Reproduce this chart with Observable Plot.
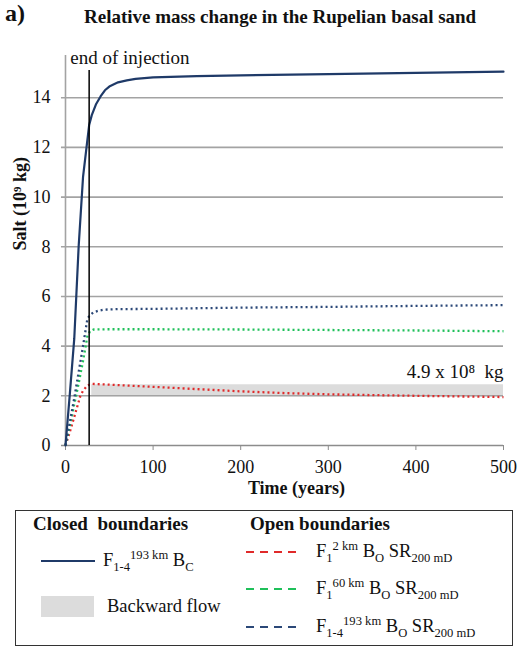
<!DOCTYPE html>
<html>
<head>
<meta charset="utf-8">
<script src="https://cdn.jsdelivr.net/npm/d3@7"></script>
<script src="https://cdn.jsdelivr.net/npm/@observablehq/plot@0.6"></script>
<style>
  html, body { margin: 0; padding: 0; background: #fff; }
  body { width: 518px; height: 650px; position: relative; overflow: hidden; font-family: "Liberation Serif", "Times New Roman", serif; color: #111; }
  .abs { position: absolute; white-space: nowrap; }
  #chart { position: absolute; left: 0; top: 0; }
  #chart svg, #chart svg text { font-family: "Liberation Serif", "Times New Roman", serif !important; }
  sub, sup { font-size: 68%; line-height: 0; }
  #legend { position: absolute; left: 15px; top: 510px; width: 496px; height: 134px; border: 1.5px solid #333; box-sizing: content-box; }
</style>
</head>
<body>
<div class="abs" style="left:5px; top:0px; font-size:24px; font-weight:bold;">a)</div>
<div class="abs" style="left:84px; top:6px; font-size:19px; font-weight:bold;">Relative mass change in the Rupelian basal sand</div>
<div id="chart"></div>
<div id="legend"></div>
<script>
// ---- data ----
const yTicks = [0, 2, 4, 6, 8, 10, 12, 14];
const xTicks = [0, 100, 200, 300, 400, 500];
const injectionEnd = 27;

const closedTime  = [0, 5, 10, 15, 20, 24, 27, 30, 35, 40, 45, 50, 60, 70, 80, 100, 150, 200, 300, 400, 500];
const closedSalt  = [0, 2.1, 4.3, 8.0, 10.8, 12.0, 12.9, 13.3, 13.75, 14.05, 14.3, 14.45, 14.62, 14.7, 14.76, 14.82, 14.87, 14.9, 14.95, 15.0, 15.05];

const open2Time   = [0, 5, 10, 17, 20, 25, 30, 50, 100, 150, 200, 250, 300, 400, 500];
const open2Salt   = [0, 0.55, 1.15, 2.0, 2.2, 2.42, 2.48, 2.45, 2.36, 2.27, 2.18, 2.11, 2.06, 2.0, 1.95];

const open60Time  = [0, 5, 10, 15, 20, 25, 28, 32, 50, 100, 200, 300, 400, 500];
const open60Salt  = [0, 0.8, 1.65, 2.5, 3.4, 4.4, 4.6, 4.67, 4.68, 4.68, 4.67, 4.65, 4.63, 4.6];

const open193Time = [0, 5, 10, 15, 20, 25, 28, 32, 38, 44, 60, 100, 200, 300, 400, 500];
const open193Salt = [0, 0.95, 1.9, 2.95, 4.0, 5.1, 5.25, 5.36, 5.43, 5.47, 5.49, 5.5, 5.55, 5.58, 5.62, 5.65];

const bandX = [30, 500];
const bandLow = 1.96;
const bandHigh = 2.45;
const bandLabel = "4.9 x 10⁸  kg";

const xLabel = "Time (years)";
const yLabel = "Salt (10⁹ kg)";
const injLabel = "end of injection";

const colors = { closed: "#1f3a68", red: "#e02a2a", green: "#1fc05a", blue: "#2b4878", grid: "#a3a3a3", band: "#dcdcdc" };

const toRows = (t, v) => t.map((d, i) => ({ t: d, v: v[i] }));
const closed = toRows(closedTime, closedSalt);
const open2 = toRows(open2Time, open2Salt);
const open60 = toRows(open60Time, open60Salt);
const open193 = toRows(open193Time, open193Salt);
const band = bandX.map(t => ({ t, lo: bandLow, hi: bandHigh }));

const font = '"Liberation Serif", "Times New Roman", serif';

const plot = Plot.plot({
  width: 518,
  height: 500,
  marginLeft: 65,
  marginRight: 15,
  marginTop: 55,
  marginBottom: 55,
  style: { fontFamily: font, fontSize: "18px", color: "#111", background: "transparent" },
  x: { domain: [0, 500], ticks: xTicks, label: null },
  y: { domain: [0, 15.7], ticks: yTicks, label: null },
  marks: [
    Plot.areaY(band, { x: "t", y1: "lo", y2: "hi", fill: colors.band }),
    Plot.ruleY(yTicks.filter(d => d > 0), { x1: -4.6, x2: 500, stroke: colors.grid, strokeWidth: 1.6, clip: false }),
    Plot.ruleX([0], { y1: 0, y2: 15.7, stroke: colors.grid, strokeWidth: 1.6 }),
    Plot.ruleY([0], { x1: -4.6, x2: 500, stroke: "#8c8c8c", strokeWidth: 1.6 }),
    Plot.axisX({ ticks: xTicks, tickSize: 5, tickPadding: 10, stroke: "#8c8c8c", label: null, fontSize: 18 }),
    Plot.axisY({ ticks: yTicks, tickSize: 0, tickPadding: 15, label: null, fontSize: 18 }),
    Plot.line(open2, { x: "t", y: "v", stroke: colors.red, strokeWidth: 2.3, strokeDasharray: "2,3", strokeLinecap: "butt" }),
    Plot.line(open60, { x: "t", y: "v", stroke: colors.green, strokeWidth: 2.3, strokeDasharray: "2,3", strokeLinecap: "butt" }),
    Plot.line(open193, { x: "t", y: "v", stroke: colors.blue, strokeWidth: 2.3, strokeDasharray: "2,3", strokeLinecap: "butt" }),
    Plot.line(closed, { x: "t", y: "v", stroke: colors.closed, strokeWidth: 2.2 }),
    Plot.ruleX([injectionEnd], { y1: 0, y2: 15.1, stroke: "#000", strokeWidth: 1.5 }),
    Plot.text([injLabel], { x: 5.5, y: 15.62, text: d => d, textAnchor: "start", fontSize: 19, fill: "#111" }),
    Plot.text([bandLabel], { x: 500, y: 2.95, text: d => d, textAnchor: "end", fontSize: 19, fill: "#111" }),
    Plot.text([xLabel], { frameAnchor: "bottom", dx: 12, dy: 48, text: d => d, fontSize: 18, fontWeight: "bold", fill: "#111" }),
    Plot.text([yLabel], { frameAnchor: "left", dx: -45, rotate: -90, text: d => d, fontSize: 18, fontWeight: "bold", fill: "#111" })
  ]
});
document.getElementById("chart").appendChild(plot);

// ---- legend (HTML) ----
const legendItems = [
  { kind: "solid", color: colors.closed, x: 25, y: 50, html: "F<sub>1-4</sub><sup>193 km</sup> B<sub>C</sub>", tx: 87 },
  { kind: "rect", color: colors.band, x: 25, y: 96, html: "Backward flow", tx: 91 },
  { kind: "dash", color: colors.red, x: 230, y: 41, html: "F<sub>1</sub><sup>2 km</sup> B<sub>O</sub> SR<sub>200 mD</sub>", tx: 300 },
  { kind: "dash", color: colors.green, x: 230, y: 78, html: "F<sub>1</sub><sup>60 km</sup> B<sub>O</sub> SR<sub>200 mD</sub>", tx: 300 },
  { kind: "dash", color: colors.blue, x: 230, y: 116, html: "F<sub>1-4</sub><sup>193 km</sup> B<sub>O</sub> SR<sub>200 mD</sub>", tx: 300 }
];
const legend = document.getElementById("legend");
legend.innerHTML =
  '<div class="abs" style="left:17px; top:2px; font-size:19px; font-weight:bold;">Closed&nbsp; boundaries</div>' +
  '<div class="abs" style="left:234px; top:2px; font-size:19px; font-weight:bold;">Open boundaries</div>';
for (const it of legendItems) {
  let sw;
  if (it.kind === "solid") sw = `<svg class="abs" style="left:${it.x}px; top:${it.y - 3}px" width="54" height="6"><line x1="0" x2="54" y1="3" y2="3" stroke="${it.color}" stroke-width="2.2"/></svg>`;
  else if (it.kind === "dash") sw = `<svg class="abs" style="left:${it.x}px; top:${it.y - 3}px" width="56" height="6"><line x1="0" x2="56" y1="3" y2="3" stroke="${it.color}" stroke-width="2.2" stroke-dasharray="8,6"/></svg>`;
  else sw = `<div class="abs" style="left:${it.x}px; top:${it.y - 11}px; width:53px; height:21px; background:${it.color}"></div>`;
  legend.insertAdjacentHTML("beforeend", sw + `<div class="abs" style="left:${it.tx}px; top:${it.y - 13}px; font-size:18.5px; line-height:24px;">${it.html}</div>`);
}
</script>
</body>
</html>
